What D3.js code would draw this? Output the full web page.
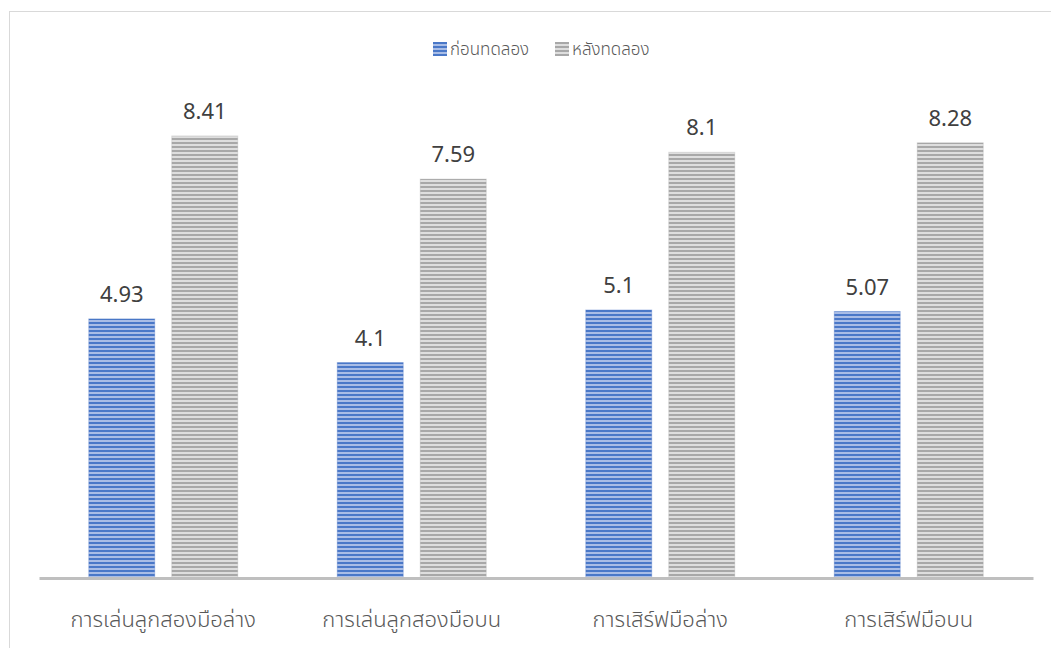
<!DOCTYPE html>
<html>
<head>
<meta charset="utf-8">
<script src="https://cdn.jsdelivr.net/npm/d3@7"></script>
<style>
  html, body { margin: 0; padding: 0; background: #fff; }
  svg text { font-family: "Noto Sans", "DejaVu Sans", sans-serif; fill: #595959; }
  svg text.thai { font-family: "Noto Sans Thai", "Noto Sans", sans-serif; font-weight: 300; }
</style>
</head>
<body>
<svg id="chart" width="1051" height="648"></svg>
<script>
const categories = ["การเล่นลูกสองมือล่าง", "การเล่นลูกสองมือบน", "การเสิร์ฟมือล่าง", "การเสิร์ฟมือบน"];
const seriesNames = ["ก่อนทดลอง", "หลังทดลอง"];
const before = [4.93, 4.1, 5.1, 5.07];
const after = [8.41, 7.59, 8.1, 8.28];

const svg = d3.select("#chart");

// chart border (frame extends beyond the canvas on the right and bottom)
svg.append("rect")
  .attr("x", 9.5).attr("y", 11.5)
  .attr("width", 1100).attr("height", 700)
  .attr("fill", "none").attr("stroke", "#d9d9d9").attr("stroke-width", 1);

const defs = svg.append("defs");
function stripes(id, dark, light) {
  const p = defs.append("pattern")
    .attr("id", id).attr("patternUnits", "userSpaceOnUse")
    .attr("width", 8).attr("height", 4);
  p.append("rect").attr("width", 8).attr("height", 4).attr("fill", light);
  p.append("rect").attr("y", 2).attr("width", 8).attr("height", 2).attr("fill", dark);
  return `url(#${id})`;
}
const fills = [
  stripes("stripeBlue", "#4a78c8", "#a9bde6"),
  stripes("stripeGray", "#a8a8a8", "#dedede")
];
const edge = ["#4472c4", "#a5a5a5"];

const left = 39, right = 1033, baseY = 578, topY = 52.4;
const x0 = d3.scaleBand().domain(categories).range([left, right]).paddingInner(0).paddingOuter(0);
const y = d3.scaleLinear().domain([0, 10]).range([baseY, topY]);

const barW = 66, gap = 17;
const rows = categories.map((c, i) => ({ c, vals: [before[i], after[i]] }));

const g = svg.append("g");
rows.forEach(r => {
  const cx = x0(r.c) + x0.bandwidth() / 2;
  r.vals.forEach((v, s) => {
    const bx = cx - gap / 2 - barW + s * (barW + gap);
    g.append("rect")
      .attr("x", bx).attr("y", y(v))
      .attr("width", barW).attr("height", baseY - y(v))
      .attr("fill", fills[s])
      .attr("stroke", edge[s]).attr("stroke-opacity", 0.3).attr("stroke-width", 1);
    g.append("text")
      .attr("x", bx + barW / 2).attr("y", y(v) - 17)
      .attr("text-anchor", "middle")
      .attr("font-size", 22)
      .style("fill", "#404040")
      .text(String(v));
  });
});

// category axis
const xAxis = svg.append("g").attr("transform", `translate(0,${baseY})`)
  .call(d3.axisBottom(x0).tickSize(0).tickPadding(33));
xAxis.select(".domain").attr("stroke", "#bfbfbf").attr("stroke-width", 3);
xAxis.selectAll(".tick text").attr("class", "thai").attr("font-size", 22).style("fill", "#595959");

// legend
const legend = svg.append("g");
const legendX = [433, 555];
seriesNames.forEach((n, i) => {
  legend.append("rect")
    .attr("x", legendX[i]).attr("y", 42)
    .attr("width", 14).attr("height", 14)
    .attr("fill", fills[i]);
  legend.append("text")
    .attr("class", "thai")
    .attr("x", legendX[i] + 17).attr("y", 55)
    .attr("font-size", 17)
    .text(n);
});
</script>
</body>
</html>
